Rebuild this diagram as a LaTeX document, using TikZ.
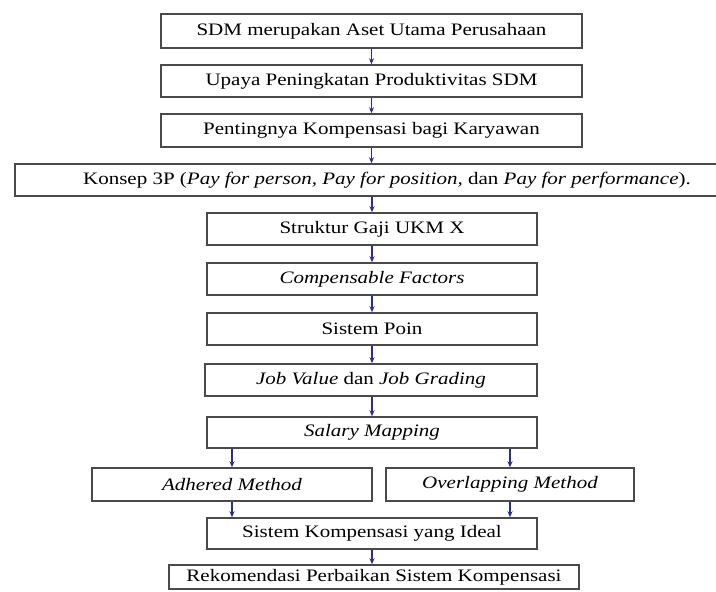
\documentclass[tikz,border=0pt]{standalone}
\usepackage{fontspec}
\setmainfont{Liberation Serif}[FakeStretch=1.2]
\usetikzlibrary{arrows.meta}
\definecolor{arrowblue}{HTML}{2B2B9C}
\definecolor{boxline}{HTML}{4A4A4A}
\begin{document}
\begin{tikzpicture}[x=1pt,y=-1pt,
  box/.style={draw=boxline,line width=1.5pt,fill=white,inner sep=0pt,
    text=black,font=\fontsize{17.5}{20}\selectfont,minimum height=32pt},
  arr/.style={draw=arrowblue,line width=1.1pt,-{Stealth[length=6pt,width=5pt]}}]
\useasboundingbox (0,0) rectangle (716,592);
\node[box,minimum width=421pt,minimum height=34pt] (b1) at (371.5,31) {SDM merupakan Aset Utama Perusahaan};
\node[box,minimum width=421pt] (b2) at (371.5,81) {Upaya Peningkatan Produktivitas SDM};
\node[box,minimum width=421pt,minimum height=33pt] (b3) at (371.5,130.5) {Pentingnya Kompensasi bagi Karyawan};
\begin{scope}
\clip (0,0) rectangle (716,592);
\node[box,minimum width=744pt] (b4) at (387,180) {Konsep 3P (\textit{Pay for person, Pay for position,} dan \textit{Pay for performance}).};
\end{scope}
\node[box,minimum width=330pt] (b5) at (372,229) {Struktur Gaji UKM X};
\node[box,minimum width=330pt] (b6) at (372,279) {\textit{Compensable Factors}};
\node[box,minimum width=330pt] (b7) at (372,329) {Sistem Poin};
\node[box,minimum width=332pt] (b8) at (371,380) {\textit{Job Value} dan \textit{Job Grading}};
\node[box,minimum width=330pt,minimum height=31pt] (b9) at (372,432.5) {\textit{Salary Mapping}};
\node[box,minimum width=280pt,minimum height=33pt] (b10) at (232,484.5) {\textit{Adhered Method}};
\node[box,minimum width=248pt,minimum height=33pt] (b11) at (510,484.5) {\textit{Overlapping Method}};
\node[box,minimum width=330pt,minimum height=31pt] (b12) at (372,533.5) {Sistem Kompensasi yang Ideal};
\node[box,minimum width=410pt,minimum height=24pt] (b13) at (374,577) {Rekomendasi Perbaikan Sistem Kompensasi};
\draw[arr] (b1.south) -- (b2.north);
\draw[arr] (b2.south) -- (b3.north);
\draw[arr] (b3.south) -- (b3.south |- b4.north);
\draw[arr] (b5.north |- b4.south) -- (b5.north);
\draw[arr] (b5.south) -- (b6.north);
\draw[arr] (b6.south) -- (b7.north);
\draw[arr] (b7.south) -- (b7.south |- b8.north);
\draw[arr] (b9.north |- b8.south) -- (b9.north);
\draw[arr] (b10.north |- b9.south) -- (b10.north);
\draw[arr] (b11.north |- b9.south) -- (b11.north);
\draw[arr] (b10.south) -- (b10.south |- b12.north);
\draw[arr] (b11.south) -- (b11.south |- b12.north);
\draw[arr] (b12.south) -- (b12.south |- b13.north);
\end{tikzpicture}
\end{document}
